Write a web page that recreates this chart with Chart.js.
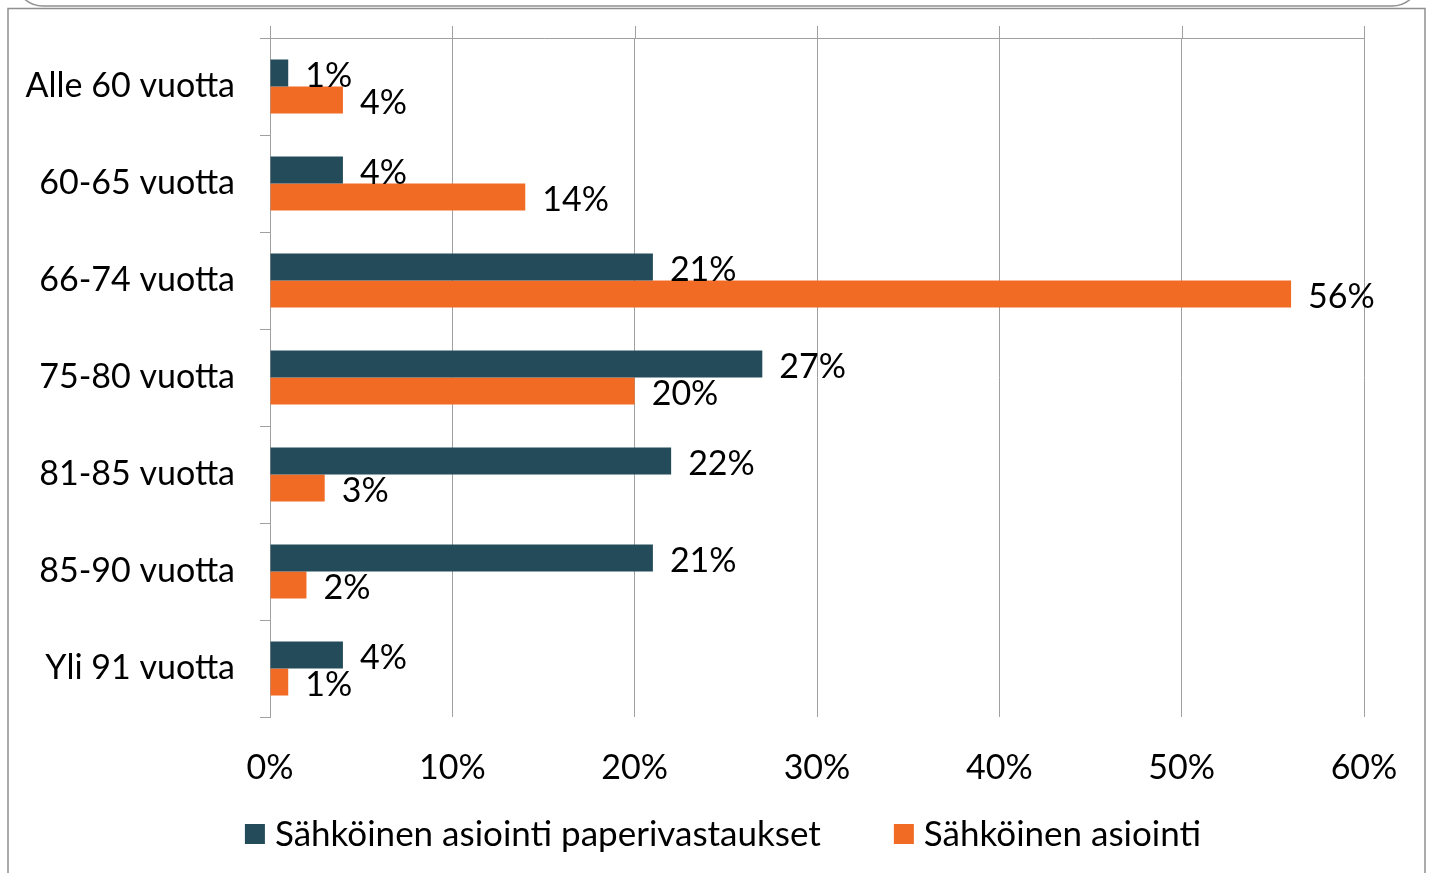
<!DOCTYPE html>
<html>
<head>
<meta charset="utf-8">
<script src="https://cdn.jsdelivr.net/npm/chart.js@4.4.0/dist/chart.umd.min.js"></script>
<style>
html,body{margin:0;padding:0;background:#fff;}
#wrap{width:1430px;height:873px;position:relative;}
</style>
</head>
<body>
<div id="wrap"><canvas id="c" width="1430" height="873"></canvas></div>
<script>
const categories = ["Alle 60 vuotta","60-65 vuotta","66-74 vuotta","75-80 vuotta","81-85 vuotta","85-90 vuotta","Yli 91 vuotta"];
const seriesNames = ["Sähköinen asiointi paperivastaukset","Sähköinen asiointi"];
const paperValues = [1,4,21,27,22,21,4];
const electronicValues = [4,14,56,20,3,2,1];
const xTicks = [0,10,20,30,40,50,60];

const DARK = '#234B5A';
const ORANGE = '#F26B24';
const GRID = '#A0A0A0';
const FONT = 'Lato, "Open Sans", sans-serif';
const FS = 34;
const LEGEND_FS = 35;

const framePlugin = {
  id: 'frame',
  beforeDraw(chart) {
    const ctx = chart.ctx;
    ctx.save();
    ctx.fillStyle = '#fff';
    ctx.fillRect(0,0,chart.width,chart.height);
    ctx.strokeStyle = '#909090';
    ctx.lineWidth = 1.5;
    ctx.beginPath();
    ctx.roundRect(15, -60, 1405, 66, 28);
    ctx.stroke();
    ctx.beginPath();
    ctx.moveTo(8, 880);
    ctx.lineTo(8, 8.5);
    ctx.lineTo(1425, 8.5);
    ctx.lineTo(1425, 880);
    ctx.stroke();
    ctx.restore();
  },
  beforeDatasetsDraw(chart) {
    const ctx = chart.ctx, xs = chart.scales.x, top = chart.chartArea.top;
    ctx.save();
    ctx.strokeStyle = GRID;
    ctx.lineWidth = 1;
    xTicks.forEach(v => {
      const px = Math.round(xs.getPixelForValue(v)) + 0.5;
      ctx.beginPath();
      ctx.moveTo(px, top - 12);
      ctx.lineTo(px, top);
      ctx.stroke();
    });
    ctx.restore();
  },
  afterDatasetsDraw(chart) {
    const ctx = chart.ctx;
    ctx.save();
    ctx.font = FS + 'px ' + FONT;
    ctx.fillStyle = '#000';
    ctx.textAlign = 'left';
    ctx.textBaseline = 'middle';
    chart.data.datasets.forEach((ds, di) => {
      const meta = chart.getDatasetMeta(di);
      meta.data.forEach((el, i) => {
        ctx.fillText(ds.data[i] + '%', el.x + 17, el.y + 3);
      });
    });
    ctx.font = LEGEND_FS + 'px ' + FONT;
    const items = chart.data.datasets.map(ds => ({label: ds.label, color: ds.backgroundColor}));
    const box = 20, gapText = 10, gapItem = 73;
    let total = 0;
    const widths = items.map(it => ctx.measureText(it.label).width);
    items.forEach((it, i) => { total += box + gapText + widths[i]; });
    total += gapItem * (items.length - 1);
    let x = 723 - total / 2;
    const cy = 834;
    items.forEach((it, i) => {
      ctx.fillStyle = it.color;
      ctx.fillRect(x, cy - box/2, box, box);
      ctx.fillStyle = '#000';
      ctx.fillText(it.label, x + box + gapText, cy + 1);
      x += box + gapText + widths[i] + gapItem;
    });
    ctx.restore();
  }
};

new Chart(document.getElementById('c'), {
  type: 'bar',
  data: {
    labels: categories,
    datasets: [
      {label: seriesNames[0], data: paperValues, backgroundColor: DARK, categoryPercentage: 0.557, barPercentage: 1.0},
      {label: seriesNames[1], data: electronicValues, backgroundColor: ORANGE, categoryPercentage: 0.557, barPercentage: 1.0}
    ]
  },
  options: {
    indexAxis: 'y',
    responsive: false,
    animation: false,
    devicePixelRatio: 1,
    layout: {padding: {left: 0, right: 66, top: 38, bottom: 0}},
    plugins: {legend: {display: false}, tooltip: {enabled: false}},
    scales: {
      x: {
        min: 0, max: 60,
        afterBuildTicks(scale) { scale.ticks = xTicks.map(v => ({value: v})); },
        afterFit(scale) { scale.height = 156; scale.paddingLeft = 0; scale.paddingRight = 0; },
        grid: {color: GRID, lineWidth: 1, drawTicks: false},
        border: {display: false},
        ticks: {color: '#000', font: {family: FONT, size: FS}, padding: 31, maxRotation: 0,
          callback: v => v + '%'}
      },
      y: {
        afterFit(scale) { scale.width = 270; scale.paddingTop = 0; scale.paddingBottom = 0; },
        grid: {
          color: ctx => ctx.index === 0 ? GRID : 'transparent',
          tickColor: GRID, tickLength: 10, lineWidth: 1, offset: true
        },
        border: {display: true, color: GRID},
        ticks: {color: '#000', font: {family: FONT, size: FS}, padding: 25}
      }
    }
  },
  plugins: [framePlugin]
});
</script>
</body>
</html>
